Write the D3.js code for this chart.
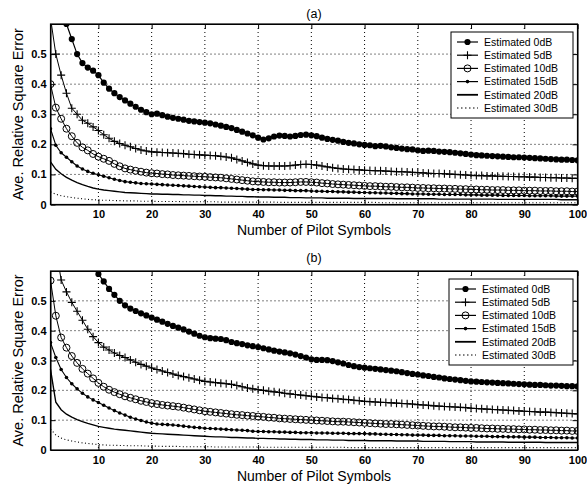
<!DOCTYPE html>
<html>
<head>
<meta charset="utf-8">
<script src="https://cdn.jsdelivr.net/npm/d3@7"></script>
<style>
  body { margin: 0; background: #fff; }
  svg { display: block; }
  text { font-family: "Liberation Sans", Arial, Helvetica, sans-serif; fill: #000; }
</style>
</head>
<body>
<svg id="chart" width="587" height="492"></svg>
<script>
// Number of pilot symbols on the x axis (1..100)
const pilotSymbols = d3.range(1, 101);
const seriesNames = ["Estimated 0dB", "Estimated 5dB", "Estimated 10dB", "Estimated 15dB", "Estimated 20dB", "Estimated 30dB"];
const panelTitles = ["(a)", "(b)"];
const xTickValues = [10, 20, 30, 40, 50, 60, 70, 80, 90, 100];
const yTickValues = [0, 0.1, 0.2, 0.3, 0.4, 0.5];
const xAxisTitle = "Number of Pilot Symbols";
const yAxisTitle = "Ave. Relative Square Error";

// ---- panel (a) ----
const a0dB = [0.95,0.80,0.68,0.60,0.55,0.50,0.47,0.455,0.445,0.43,
  0.405,0.385,0.37,0.357,0.346,0.335,0.325,0.315,0.307,0.300,
  0.302,0.297,0.292,0.288,0.285,0.282,0.278,0.276,0.274,0.272,
  0.270,0.266,0.262,0.258,0.254,0.248,0.242,0.236,0.230,0.222,
  0.216,0.220,0.226,0.229,0.228,0.226,0.228,0.231,0.232,0.230,
  0.227,0.222,0.218,0.215,0.212,0.208,0.205,0.203,0.200,0.198,
  0.197,0.194,0.195,0.193,0.190,0.188,0.186,0.184,0.183,0.180,
  0.178,0.179,0.178,0.176,0.175,0.174,0.172,0.170,0.168,0.166,
  0.164,0.163,0.162,0.161,0.160,0.159,0.158,0.157,0.157,0.156,
  0.155,0.154,0.153,0.152,0.151,0.150,0.149,0.149,0.148,0.147];
const a5dB = [0.62,0.50,0.43,0.37,0.32,0.30,0.28,0.27,0.258,0.246,
  0.232,0.220,0.210,0.203,0.197,0.192,0.186,0.181,0.178,0.175,
  0.174,0.173,0.172,0.171,0.170,0.169,0.167,0.166,0.165,0.164,
  0.163,0.162,0.160,0.158,0.155,0.150,0.145,0.140,0.135,0.131,
  0.129,0.128,0.128,0.128,0.128,0.129,0.131,0.133,0.134,0.133,
  0.131,0.128,0.125,0.122,0.120,0.118,0.117,0.116,0.115,0.114,
  0.113,0.112,0.112,0.111,0.110,0.109,0.109,0.108,0.107,0.106,
  0.105,0.104,0.103,0.103,0.102,0.101,0.100,0.099,0.098,0.097,
  0.096,0.096,0.095,0.095,0.094,0.094,0.093,0.093,0.092,0.092,
  0.091,0.091,0.090,0.090,0.089,0.089,0.088,0.088,0.087,0.087];
const a10dB = [0.400,0.322,0.285,0.252,0.227,0.205,0.190,0.180,0.168,0.159,
  0.152,0.145,0.135,0.127,0.120,0.116,0.112,0.109,0.106,0.104,
  0.103,0.101,0.100,0.098,0.097,0.096,0.095,0.094,0.093,0.092,
  0.091,0.090,0.089,0.087,0.085,0.083,0.081,0.079,0.077,0.076,
  0.075,0.074,0.074,0.073,0.073,0.073,0.074,0.075,0.075,0.074,
  0.073,0.071,0.070,0.068,0.067,0.066,0.065,0.064,0.063,0.062,
  0.061,0.061,0.060,0.059,0.059,0.058,0.057,0.057,0.056,0.055,
  0.055,0.054,0.054,0.053,0.053,0.052,0.052,0.051,0.051,0.050,
  0.050,0.049,0.049,0.048,0.048,0.048,0.047,0.047,0.047,0.046,
  0.046,0.046,0.045,0.045,0.045,0.044,0.044,0.044,0.043,0.043];
const a15dB = [0.252,0.197,0.172,0.157,0.142,0.128,0.118,0.110,0.104,0.099,
  0.094,0.089,0.084,0.080,0.076,0.074,0.072,0.070,0.069,0.068,
  0.067,0.066,0.065,0.064,0.063,0.062,0.061,0.060,0.059,0.058,
  0.057,0.056,0.056,0.055,0.054,0.053,0.052,0.051,0.050,0.050,
  0.049,0.049,0.048,0.048,0.047,0.047,0.046,0.046,0.046,0.045,
  0.044,0.044,0.043,0.043,0.042,0.042,0.041,0.041,0.040,0.040,
  0.039,0.039,0.038,0.038,0.037,0.037,0.036,0.036,0.035,0.035,
  0.035,0.034,0.034,0.034,0.033,0.033,0.033,0.033,0.032,0.032,
  0.032,0.031,0.031,0.031,0.031,0.030,0.030,0.030,0.030,0.030,
  0.029,0.029,0.029,0.029,0.029,0.028,0.028,0.028,0.028,0.028];
const a20dB = [0.142,0.117,0.102,0.090,0.081,0.073,0.066,0.060,0.055,0.051,
  0.048,0.046,0.044,0.042,0.040,0.039,0.038,0.037,0.036,0.035,
  0.035,0.034,0.034,0.033,0.033,0.032,0.032,0.031,0.031,0.030,
  0.030,0.029,0.029,0.028,0.028,0.027,0.027,0.026,0.026,0.025,
  0.025,0.025,0.024,0.024,0.024,0.023,0.023,0.023,0.022,0.022,
  0.022,0.022,0.021,0.021,0.021,0.021,0.021,0.020,0.020,0.020,
  0.020,0.020,0.020,0.020,0.020,0.019,0.019,0.019,0.019,0.019,
  0.019,0.019,0.019,0.018,0.018,0.018,0.018,0.018,0.018,0.018,
  0.018,0.018,0.018,0.018,0.017,0.017,0.017,0.017,0.017,0.017,
  0.017,0.017,0.017,0.017,0.017,0.017,0.016,0.016,0.016,0.016];
const a30dB = [0.042,0.034,0.029,0.026,0.023,0.021,0.019,0.017,0.016,0.015,
  0.014,0.014,0.013,0.013,0.012,0.012,0.012,0.011,0.011,0.011,
  0.010,0.010,0.010,0.010,0.010,0.009,0.009,0.009,0.009,0.009,
  0.009,0.009,0.008,0.008,0.008,0.008,0.008,0.008,0.008,0.008,
  0.008,0.008,0.008,0.007,0.007,0.007,0.007,0.007,0.007,0.007,
  0.007,0.007,0.007,0.007,0.007,0.007,0.007,0.007,0.007,0.007,
  0.007,0.007,0.006,0.006,0.006,0.006,0.006,0.006,0.006,0.006,
  0.006,0.006,0.006,0.006,0.006,0.006,0.006,0.006,0.006,0.006,
  0.006,0.006,0.006,0.006,0.006,0.006,0.006,0.006,0.006,0.006,
  0.006,0.006,0.006,0.006,0.006,0.006,0.006,0.006,0.006,0.006];

// ---- panel (b) ----
const b0dB = [1.50,1.30,1.15,1.00,0.90,0.82,0.74,0.68,0.63,0.59,
  0.565,0.540,0.520,0.500,0.485,0.474,0.466,0.458,0.451,0.444,
  0.437,0.430,0.423,0.416,0.410,0.404,0.397,0.390,0.383,0.378,
  0.375,0.373,0.372,0.368,0.362,0.358,0.355,0.351,0.348,0.345,
  0.341,0.337,0.333,0.330,0.327,0.324,0.320,0.315,0.310,0.304,
  0.302,0.302,0.301,0.298,0.294,0.290,0.285,0.281,0.278,0.276,
  0.274,0.272,0.270,0.268,0.266,0.264,0.261,0.258,0.255,0.253,
  0.250,0.248,0.245,0.243,0.240,0.238,0.236,0.234,0.232,0.230,
  0.229,0.228,0.227,0.226,0.225,0.224,0.223,0.222,0.221,0.220,
  0.219,0.218,0.218,0.217,0.216,0.216,0.215,0.214,0.214,0.213];
const b5dB = [0.90,0.68,0.57,0.53,0.495,0.465,0.435,0.405,0.380,0.360,
  0.345,0.335,0.325,0.317,0.310,0.302,0.294,0.287,0.281,0.275,
  0.270,0.265,0.260,0.255,0.250,0.246,0.242,0.238,0.234,0.230,
  0.228,0.226,0.224,0.222,0.220,0.216,0.212,0.208,0.205,0.202,
  0.200,0.197,0.195,0.193,0.190,0.188,0.186,0.184,0.182,0.180,
  0.178,0.176,0.175,0.173,0.172,0.170,0.169,0.167,0.165,0.163,
  0.162,0.161,0.160,0.159,0.158,0.157,0.156,0.155,0.154,0.152,
  0.151,0.150,0.148,0.147,0.146,0.145,0.144,0.143,0.142,0.140,
  0.139,0.138,0.137,0.136,0.135,0.134,0.133,0.132,0.131,0.130,
  0.129,0.128,0.127,0.127,0.126,0.125,0.124,0.123,0.122,0.121];
const b10dB = [0.568,0.450,0.377,0.343,0.315,0.292,0.272,0.256,0.240,0.225,
  0.212,0.202,0.194,0.187,0.180,0.175,0.170,0.165,0.161,0.157,
  0.154,0.151,0.149,0.147,0.145,0.142,0.139,0.136,0.133,0.130,
  0.128,0.126,0.124,0.122,0.120,0.118,0.117,0.115,0.114,0.112,
  0.111,0.109,0.108,0.106,0.105,0.104,0.103,0.102,0.101,0.100,
  0.099,0.098,0.097,0.096,0.095,0.095,0.094,0.093,0.092,0.091,
  0.090,0.089,0.088,0.087,0.087,0.086,0.085,0.084,0.083,0.082,
  0.081,0.080,0.079,0.079,0.078,0.077,0.076,0.076,0.075,0.074,
  0.074,0.073,0.072,0.072,0.071,0.071,0.070,0.070,0.069,0.069,
  0.068,0.068,0.067,0.067,0.066,0.066,0.065,0.065,0.064,0.064];
const b15dB = [0.360,0.310,0.270,0.243,0.222,0.205,0.190,0.178,0.168,0.159,
  0.150,0.141,0.132,0.124,0.117,0.110,0.104,0.099,0.094,0.090,
  0.087,0.086,0.085,0.084,0.082,0.080,0.078,0.076,0.075,0.073,
  0.072,0.071,0.070,0.069,0.068,0.067,0.066,0.065,0.063,0.062,
  0.062,0.061,0.061,0.060,0.060,0.059,0.059,0.058,0.058,0.058,
  0.057,0.057,0.057,0.056,0.056,0.056,0.055,0.055,0.055,0.055,
  0.054,0.054,0.053,0.053,0.052,0.052,0.051,0.051,0.050,0.050,
  0.050,0.049,0.049,0.049,0.048,0.048,0.048,0.047,0.047,0.047,
  0.046,0.046,0.046,0.045,0.045,0.045,0.044,0.044,0.044,0.043,
  0.043,0.043,0.042,0.042,0.042,0.041,0.041,0.041,0.040,0.040];
const b20dB = [0.270,0.160,0.135,0.120,0.110,0.102,0.095,0.089,0.084,0.079,
  0.076,0.073,0.070,0.068,0.066,0.064,0.062,0.060,0.058,0.056,
  0.055,0.054,0.053,0.052,0.051,0.050,0.049,0.048,0.047,0.046,
  0.045,0.044,0.044,0.043,0.042,0.042,0.041,0.040,0.040,0.039,
  0.039,0.038,0.038,0.037,0.037,0.036,0.036,0.035,0.035,0.035,
  0.034,0.034,0.034,0.033,0.033,0.033,0.032,0.032,0.032,0.032,
  0.031,0.031,0.031,0.031,0.031,0.030,0.030,0.030,0.030,0.030,
  0.029,0.029,0.029,0.029,0.029,0.028,0.028,0.028,0.028,0.028,
  0.027,0.027,0.027,0.027,0.027,0.027,0.026,0.026,0.026,0.026,
  0.026,0.026,0.026,0.025,0.025,0.025,0.025,0.025,0.025,0.025];
const b30dB = [0.070,0.050,0.040,0.034,0.030,0.027,0.024,0.022,0.020,0.018,
  0.017,0.016,0.016,0.015,0.015,0.014,0.014,0.014,0.013,0.013,
  0.013,0.012,0.012,0.012,0.012,0.011,0.011,0.011,0.011,0.011,
  0.011,0.010,0.010,0.010,0.010,0.010,0.010,0.010,0.010,0.010,
  0.009,0.009,0.009,0.009,0.009,0.009,0.009,0.009,0.009,0.009,
  0.009,0.009,0.009,0.009,0.009,0.009,0.008,0.008,0.008,0.008,
  0.008,0.008,0.008,0.008,0.008,0.008,0.008,0.008,0.008,0.008,
  0.008,0.008,0.008,0.008,0.008,0.008,0.008,0.008,0.008,0.008,
  0.008,0.008,0.008,0.008,0.008,0.008,0.008,0.008,0.008,0.008,
  0.008,0.008,0.008,0.008,0.008,0.008,0.008,0.008,0.008,0.008];

// marker kind and dash per series (0dB .. 30dB)
const markerKinds = ["dot", "plus", "circle", "small", "none", "none"];
const dashes = [null, null, null, null, null, "1,2.5"];
const lineWidths = [1.2, 1, 1, 1.1, 1.4, 1.1];

const svg = d3.select("#chart");
const plotLeft = 50.5, plotRight = 577.5;

const panels = [
  { title: panelTitles[0], top: 24, bottom: 204.5, titleY: 18, xTitleY: 235,
    data: [a0dB, a5dB, a10dB, a15dB, a20dB, a30dB],
    legend: { x: 451, y: 32, w: 122, h: 86 } },
  { title: panelTitles[1], top: 271, bottom: 450, titleY: 262, xTitleY: 481,
    data: [b0dB, b5dB, b10dB, b15dB, b20dB, b30dB],
    legend: { x: 449, y: 279, w: 124, h: 86 } }
];

function drawMarker(sel, kind, cx, cy) {
  if (kind === "dot") {
    sel.append("circle").attr("cx", cx).attr("cy", cy).attr("r", 3.1).attr("fill", "#000");
  } else if (kind === "small") {
    sel.append("circle").attr("cx", cx).attr("cy", cy).attr("r", 1.8).attr("fill", "#000");
  } else if (kind === "circle") {
    sel.append("circle").attr("cx", cx).attr("cy", cy).attr("r", 3.5)
      .attr("fill", "none").attr("stroke", "#000").attr("stroke-width", 1);
  } else if (kind === "plus") {
    sel.append("path").attr("d", `M${cx - 4},${cy}H${cx + 4}M${cx},${cy - 4}V${cy + 4}`)
      .attr("stroke", "#000").attr("stroke-width", 1.1);
  }
}

panels.forEach((p, pi) => {
  const x = d3.scaleLinear().domain([1, 100]).range([plotLeft, plotRight]);
  const y = d3.scaleLinear().domain([0, 0.6]).range([p.bottom, p.top]);
  const g = svg.append("g");

  // grid
  g.append("g").selectAll("line").data(xTickValues.filter(v => v < 100)).join("line")
    .attr("x1", d => x(d)).attr("x2", d => x(d)).attr("y1", p.top).attr("y2", p.bottom)
    .attr("stroke", "#000").attr("stroke-width", 1).attr("stroke-dasharray", "1,3");
  g.append("g").selectAll("line").data(yTickValues.filter(v => v > 0)).join("line")
    .attr("x1", plotLeft).attr("x2", plotRight).attr("y1", d => y(d)).attr("y2", d => y(d))
    .attr("stroke", "#000").attr("stroke-width", 1).attr("stroke-dasharray", "1,3");

  // clip
  const clipId = "clip" + pi;
  svg.append("clipPath").attr("id", clipId).append("rect")
    .attr("x", plotLeft).attr("y", p.top).attr("width", plotRight - plotLeft).attr("height", p.bottom - p.top);
  const plot = g.append("g").attr("clip-path", `url(#${clipId})`);

  const line = d3.line().x((d, i) => x(pilotSymbols[i])).y(d => y(d));
  p.data.forEach((vals, si) => {
    const path = plot.append("path").datum(vals).attr("d", line)
      .attr("fill", "none").attr("stroke", "#000").attr("stroke-width", lineWidths[si]);
    if (dashes[si]) path.attr("stroke-dasharray", dashes[si]);
    if (markerKinds[si] !== "none") {
      const mg = plot.append("g");
      vals.forEach((v, i) => drawMarker(mg, markerKinds[si], x(pilotSymbols[i]), y(v)));
    }
  });

  // axes (inward ticks on all four sides)
  const fmtY = d => d === 0 ? "0" : d3.format(".1f")(d);
  const ax = g.append("g").attr("transform", `translate(0,${p.bottom})`)
    .call(d3.axisBottom(x).tickValues(xTickValues).tickSize(-5).tickSizeOuter(0).tickPadding(6));
  const ay = g.append("g").attr("transform", `translate(${plotLeft},0)`)
    .call(d3.axisLeft(y).tickValues(yTickValues).tickFormat(fmtY).tickSize(-5).tickSizeOuter(0).tickPadding(4));
  g.append("g").attr("transform", `translate(0,${p.top})`)
    .call(d3.axisTop(x).tickValues(xTickValues).tickFormat("").tickSize(-5).tickSizeOuter(0));
  g.append("g").attr("transform", `translate(${plotRight},0)`)
    .call(d3.axisRight(y).tickValues(yTickValues).tickFormat("").tickSize(-5).tickSizeOuter(0));
  g.selectAll(".domain").attr("stroke", "#000");
  g.selectAll(".tick line").attr("stroke", "#000");
  [ax, ay].forEach(a => a.selectAll("text")
    .attr("font-size", "11px").attr("font-weight", "bold").attr("font-family", '"Liberation Sans", Arial, sans-serif'));

  // frame
  g.append("rect").attr("x", plotLeft).attr("y", p.top)
    .attr("width", plotRight - plotLeft).attr("height", p.bottom - p.top)
    .attr("fill", "none").attr("stroke", "#000").attr("stroke-width", 1.2);

  // titles
  g.append("text").attr("x", (plotLeft + plotRight) / 2).attr("y", p.titleY)
    .attr("text-anchor", "middle").attr("font-size", "12.5px").text(p.title);
  g.append("text").attr("x", (plotLeft + plotRight) / 2).attr("y", p.xTitleY)
    .attr("text-anchor", "middle").attr("font-size", "14px").text(xAxisTitle);
  g.append("text")
    .attr("transform", `translate(23,${(p.top + p.bottom) / 2}) rotate(-90)`)
    .attr("text-anchor", "middle").attr("font-size", "14.5px").text(yAxisTitle);

  // legend
  const L = p.legend;
  const lg = g.append("g");
  lg.append("rect").attr("x", L.x).attr("y", L.y).attr("width", L.w).attr("height", L.h)
    .attr("fill", "#fff").attr("stroke", "#000").attr("stroke-width", 1);
  seriesNames.forEach((name, si) => {
    const ry = L.y + 10 + si * 13.2;
    const l = lg.append("line").attr("x1", L.x + 6).attr("x2", L.x + 27).attr("y1", ry).attr("y2", ry)
      .attr("stroke", "#000").attr("stroke-width", si === 4 ? 1.8 : 1.2);
    if (dashes[si]) l.attr("stroke-dasharray", "1.5,2.5");
    drawMarker(lg, markerKinds[si], L.x + 16.5, ry);
    lg.append("text").attr("x", L.x + 33).attr("y", ry).attr("dy", "0.36em")
      .attr("font-size", "10.5px").text(name);
  });
});
</script>
</body>
</html>
